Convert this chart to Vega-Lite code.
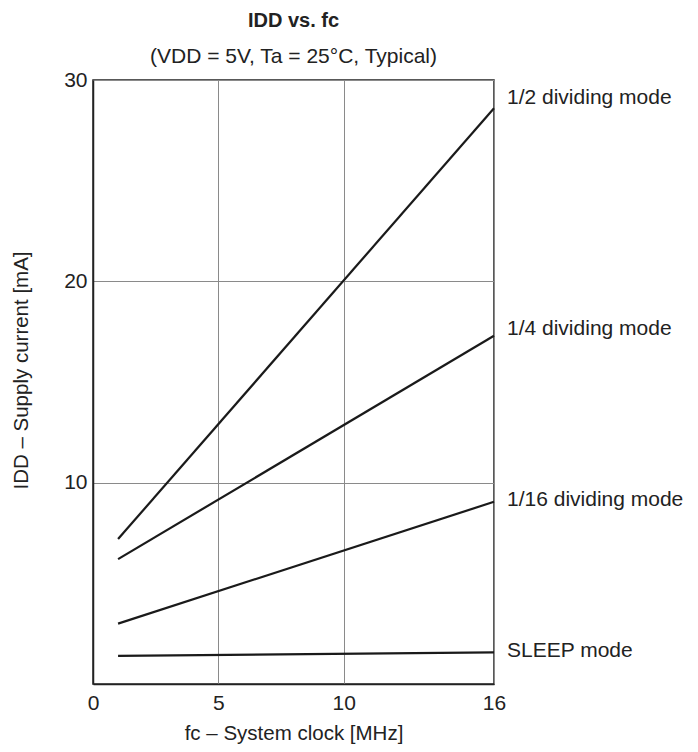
{
  "$schema": "https://vega.github.io/schema/vega-lite/v6.json",
  "autosize": "none",
  "width": 401,
  "height": 604,
  "padding": {"left": 93, "top": 80, "right": 204, "bottom": 68},
  "background": "white",
  "config": {
    "font": "Liberation Sans",
    "view": {"stroke": "#222", "strokeWidth": 1.5},
    "axis": {
      "labelFont": "Liberation Sans",
      "titleFont": "Liberation Sans",
      "labelFontSize": 21,
      "titleFontSize": 20.5,
      "titleFontWeight": "normal",
      "labelColor": "#222",
      "titleColor": "#222",
      "domainColor": "#222",
      "domainWidth": 1.5,
      "ticks": false,
      "gridColor": "#8a8a8a",
      "gridWidth": 1,
      "gridOpacity": 1
    }
  },
  "title": {
    "text": "IDD vs. fc",
    "subtitle": "(VDD = 5V, Ta = 25°C, Typical)",
    "frame": "group",
    "anchor": "middle",
    "font": "Liberation Sans",
    "fontSize": 20,
    "fontWeight": "bold",
    "color": "#222",
    "subtitleFont": "Liberation Sans",
    "subtitleFontSize": 21,
    "subtitleColor": "#222",
    "subtitlePadding": 15,
    "offset": 2
  },
  "datasets": {
    "curves": [
      {"mode": "1/2 dividing mode", "fc": 1, "idd": 7.2},
      {"mode": "1/2 dividing mode", "fc": 16, "idd": 28.6},
      {"mode": "1/4 dividing mode", "fc": 1, "idd": 6.2},
      {"mode": "1/4 dividing mode", "fc": 16, "idd": 17.3},
      {"mode": "1/16 dividing mode", "fc": 1, "idd": 3.0},
      {"mode": "1/16 dividing mode", "fc": 16, "idd": 9.05},
      {"mode": "SLEEP mode", "fc": 1, "idd": 1.4},
      {"mode": "SLEEP mode", "fc": 16, "idd": 1.57}
    ],
    "labels": [
      {"mode": "1/2 dividing mode", "fc": 16, "idd": 29.1},
      {"mode": "1/4 dividing mode", "fc": 16, "idd": 17.65},
      {"mode": "1/16 dividing mode", "fc": 16, "idd": 9.15},
      {"mode": "SLEEP mode", "fc": 16, "idd": 1.64}
    ]
  },
  "layer": [
    {
      "data": {"name": "curves"},
      "mark": {"type": "line", "color": "#1a1a1a", "strokeWidth": 2.2, "clip": false},
      "encoding": {
        "x": {
          "field": "fc", "type": "quantitative",
          "scale": {"domain": [0, 16], "nice": false, "zero": false},
          "axis": {
            "values": [0, 5, 10, 16],
            "title": "fc – System clock [MHz]",
            "labelPadding": 8,
            "titlePadding": 10,
            "labelFlush": false
          }
        },
        "y": {
          "field": "idd", "type": "quantitative",
          "scale": {"domain": [0, 30], "nice": false},
          "axis": {
            "values": [10, 20, 30],
            "title": "IDD – Supply current [mA]",
            "titleY": 290,
            "titleAnchor": "middle",
            "labelPadding": 6,
            "titlePadding": 32,
            "labelFlush": false
          }
        },
        "detail": {"field": "mode", "type": "nominal"}
      }
    },
    {
      "data": {"name": "labels"},
      "mark": {"type": "text", "align": "left", "baseline": "middle", "dx": 13, "fontSize": 21, "font": "Liberation Sans", "color": "#222", "clip": false},
      "encoding": {
        "x": {"field": "fc", "type": "quantitative"},
        "y": {"field": "idd", "type": "quantitative"},
        "text": {"field": "mode", "type": "nominal"}
      }
    }
  ]
}
